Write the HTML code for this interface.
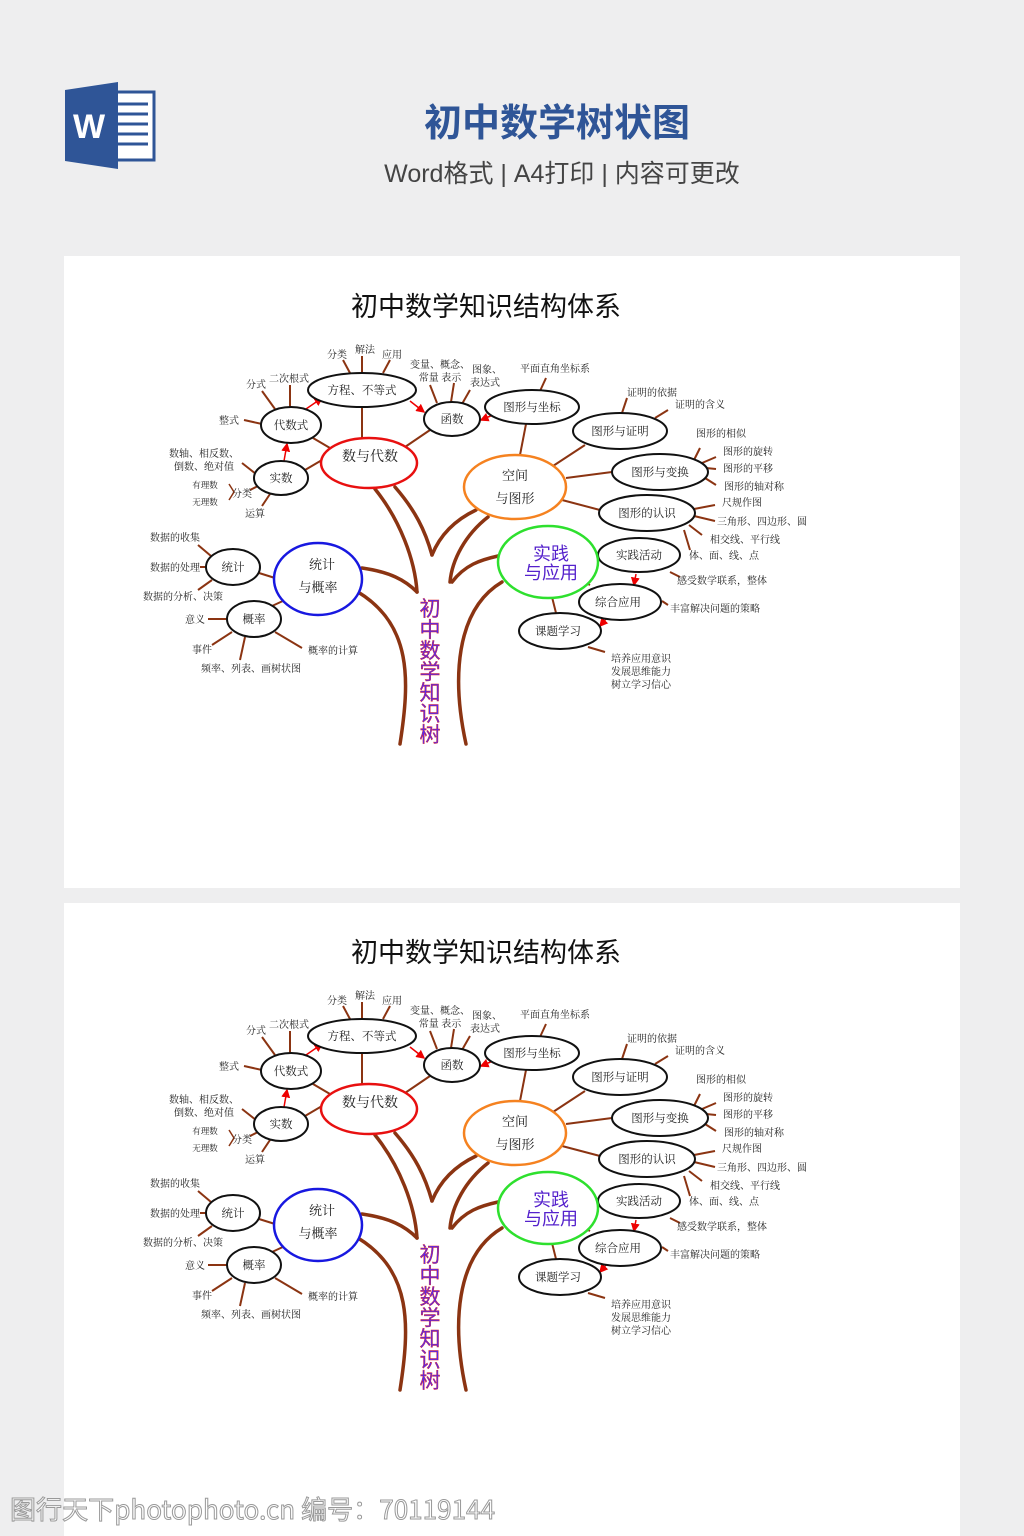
<!DOCTYPE html>
<html><head><meta charset="utf-8">
<style>
body{margin:0;width:1024px;height:1536px;background:#eeeeef;position:relative;overflow:hidden;font-family:"Liberation Sans","Noto Sans CJK SC",sans-serif}
.panel{position:absolute;left:64px;width:896px;background:#fff}
svg{position:absolute;left:0;top:0}
.t{font-family:"Liberation Serif","Noto Serif CJK SC",serif;fill:#222;text-anchor:middle}
.s{font-size:10px}.m{font-size:11.5px}
</style></head><body>
<div class="panel" style="top:256px;height:632px"></div>
<div class="panel" style="top:903px;height:633px"></div>
<div style="position:absolute;left:0;top:92px;width:1114px;text-align:center;font-size:38px;font-weight:bold;color:#2f5597;font-family:'Noto Sans CJK SC',sans-serif">初中数学树状图</div>
<div style="position:absolute;left:0;top:154px;width:1124px;text-align:center;font-size:25px;color:#444;font-family:'Liberation Sans','Noto Sans CJK SC',sans-serif">Word格式 | A4打印 | 内容可更改</div>
<svg width="1024" height="1536" viewBox="0 0 1024 1536">
<defs>
<marker id="ar" markerWidth="6" markerHeight="6" refX="5" refY="3" orient="auto"><path d="M0,0L6,3L0,6z" fill="#e00"/></marker>
</defs>
<rect x="112" y="92" width="42" height="68" fill="#fff" stroke="#2f5597" stroke-width="3"/>
<g stroke="#2f5597" stroke-width="3"><line x1="118" y1="104" x2="148" y2="104"/><line x1="118" y1="114" x2="148" y2="114"/><line x1="118" y1="124" x2="148" y2="124"/><line x1="118" y1="134" x2="148" y2="134"/><line x1="118" y1="144" x2="148" y2="144"/></g>
<polygon points="65,90 118,82 118,169 65,161" fill="#2f5597"/>
<text x="89" y="138" font-size="34" font-weight="bold" fill="#fff" text-anchor="middle" font-family="Liberation Sans,sans-serif">W</text>

<g id="d1">
<text x="486" y="316" font-size="27" text-anchor="middle" fill="#111" font-family="Noto Sans CJK SC,sans-serif">初中数学知识结构体系</text>
<g fill="none" stroke="#8b3412" stroke-width="3.5" stroke-linecap="round">
<path d="M400,744 C410,680 412,625 358,592"/>
<path d="M362,568 C390,572 405,580 417,592"/>
<path d="M375,489 C400,520 415,560 417,592"/>
<path d="M395,487 C415,510 425,530 432,555"/>
<path d="M476,510 C455,520 440,535 432,555"/>
<path d="M466,744 C452,680 455,610 502,582"/>
<path d="M452,582 C465,565 480,560 498,556"/>
<path d="M488,517 C465,535 452,560 450,582"/>
</g>
<g stroke="#8b3412" stroke-width="2">
<line x1="362" y1="407" x2="362" y2="438"/><line x1="313" y1="438" x2="330" y2="448"/><line x1="305" y1="470" x2="322" y2="460"/><line x1="430" y1="430" x2="405" y2="447"/>
<line x1="526" y1="424" x2="520" y2="455"/><line x1="585" y1="445" x2="553" y2="466"/><line x1="612" y1="472" x2="566" y2="478"/><line x1="600" y1="510" x2="562" y2="500"/>
<line x1="343" y1="360" x2="350" y2="373"/><line x1="362" y1="356" x2="362" y2="373"/><line x1="390" y1="360" x2="383" y2="373"/>
<line x1="262" y1="391" x2="275" y2="409"/><line x1="290" y1="385" x2="290" y2="407"/><line x1="244" y1="420" x2="262" y2="424"/>
<line x1="242" y1="463" x2="256" y2="474"/><line x1="250" y1="490" x2="258" y2="486"/><line x1="262" y1="506" x2="270" y2="494"/>
<line x1="430" y1="385" x2="437" y2="403"/><line x1="454" y1="383" x2="451" y2="402"/><line x1="470" y1="390" x2="462" y2="404"/>
<line x1="546" y1="378" x2="540" y2="391"/><line x1="627" y1="398" x2="622" y2="413"/><line x1="668" y1="410" x2="655" y2="418"/>
<line x1="700" y1="448" x2="694" y2="460"/><line x1="716" y1="457" x2="702" y2="463"/><line x1="716" y1="469" x2="706" y2="468"/><line x1="716" y1="485" x2="705" y2="478"/>
<line x1="715" y1="505" x2="694" y2="509"/><line x1="715" y1="521" x2="694" y2="516"/><line x1="702" y1="535" x2="689" y2="525"/><line x1="690" y1="550" x2="684" y2="530"/>
<line x1="590" y1="585" x2="580" y2="580"/><line x1="556" y1="613" x2="552" y2="597"/>
<line x1="670" y1="572" x2="680" y2="577"/><line x1="662" y1="601" x2="668" y2="605"/><line x1="588" y1="647" x2="605" y2="652"/>
<line x1="198" y1="545" x2="211" y2="556"/><line x1="200" y1="567" x2="206" y2="567"/><line x1="198" y1="590" x2="212" y2="580"/>
<line x1="259" y1="573" x2="275" y2="578"/><line x1="272" y1="606" x2="285" y2="600"/>
<line x1="208" y1="619" x2="227" y2="619"/><line x1="212" y1="645" x2="232" y2="632"/><line x1="240" y1="660" x2="245" y2="637"/><line x1="302" y1="648" x2="275" y2="632"/>
<polyline points="229,484 234,492 229,500" fill="none" stroke-width="1.5"/>
</g>
<g stroke="#e00" stroke-width="1.5" marker-end="url(#ar)">
<line x1="284" y1="461" x2="287" y2="444"/><line x1="306" y1="409" x2="322" y2="398"/><line x1="410" y1="401" x2="424" y2="412"/><line x1="500" y1="412" x2="481" y2="420"/>
<line x1="636" y1="574" x2="634" y2="585"/><line x1="606" y1="619" x2="600" y2="626"/>
</g>
<g fill="#fff" stroke="#111" stroke-width="2">
<ellipse cx="362" cy="390" rx="54" ry="17"/><ellipse cx="291" cy="425" rx="30" ry="18"/><ellipse cx="281" cy="478" rx="27" ry="17"/>
<ellipse cx="452" cy="419" rx="28" ry="17"/><ellipse cx="532" cy="407" rx="47" ry="17"/><ellipse cx="620" cy="431" rx="47" ry="18"/>
<ellipse cx="660" cy="472" rx="48" ry="18"/><ellipse cx="647" cy="513" rx="48" ry="18"/>
<ellipse cx="639" cy="555" rx="41" ry="17"/><ellipse cx="620" cy="602" rx="41" ry="18"/><ellipse cx="560" cy="631" rx="41" ry="18"/>
<ellipse cx="233" cy="567" rx="27" ry="18"/><ellipse cx="254" cy="619" rx="27" ry="18"/>
<ellipse cx="369" cy="463" rx="48" ry="25" stroke="#e81010" stroke-width="2.5"/>
<ellipse cx="515" cy="487" rx="51" ry="32" stroke="#f58220" stroke-width="2.5"/>
<ellipse cx="548" cy="562" rx="50" ry="36" stroke="#2ee02e" stroke-width="2.5"/>
<ellipse cx="318" cy="579" rx="44" ry="36" stroke="#1818e0" stroke-width="2.5"/>
</g>
<g class="t m">
<text x="362" y="394">方程、不等式</text><text x="291" y="429">代数式</text><text x="281" y="482">实数</text><text x="452" y="423">函数</text>
<text x="532" y="411">图形与坐标</text><text x="620" y="435">图形与证明</text><text x="660" y="476">图形与变换</text><text x="647" y="517">图形的认识</text>
<text x="639" y="559">实践活动</text><text x="618" y="606">综合应用</text><text x="558" y="635">课题学习</text>
<text x="233" y="571">统计</text><text x="254" y="623">概率</text>
<text x="370" y="461" font-size="14">数与代数</text>
<text x="515" y="480" font-size="13">空间</text><text x="515" y="503" font-size="13">与图形</text>
<text x="322" y="569" font-size="13">统计</text><text x="318" y="592" font-size="13">与概率</text>
</g>
<g font-family="Noto Sans CJK SC,sans-serif" font-size="18" fill="#5522cc" text-anchor="middle">
<text x="551" y="560">实践</text><text x="551" y="579">与应用</text>
</g>
<g font-family="Noto Sans CJK SC,sans-serif" font-size="21" fill="#5a2ae8" stroke="#e02020" stroke-width="0.4" text-anchor="middle">
<text x="430" y="616">初</text><text x="430" y="637">中</text><text x="430" y="658">数</text><text x="430" y="679">学</text><text x="430" y="700">知</text><text x="430" y="721">识</text><text x="430" y="742">树</text>
</g>
<g class="t s">
<text x="337" y="358">分类</text><text x="365" y="353">解法</text><text x="392" y="358">应用</text>
<text x="256" y="388">分式</text><text x="289" y="382">二次根式</text><text x="229" y="424">整式</text>
<text x="204" y="457">数轴、相反数、</text><text x="204" y="470">倒数、绝对值</text>
<text x="205" y="488" font-size="8.5">有理数</text><text x="205" y="505" font-size="8.5">无理数</text><text x="242" y="497">分类</text><text x="255" y="517">运算</text>
<text x="440" y="368">变量、概念、</text><text x="440" y="381">常量  表示</text><text x="487" y="373">图象、</text><text x="485" y="386">表达式</text>
<text x="555" y="372">平面直角坐标系</text><text x="652" y="396">证明的依据</text><text x="700" y="408">证明的含义</text>
<text x="721" y="437">图形的相似</text><text x="748" y="455">图形的旋转</text><text x="748" y="472">图形的平移</text><text x="754" y="490">图形的轴对称</text>
<text x="742" y="506">尺规作图</text><text x="762" y="525">三角形、四边形、圆</text><text x="745" y="543">相交线、平行线</text><text x="724" y="559">体、面、线、点</text>
<text x="722" y="584">感受数学联系，整体</text><text x="715" y="612">丰富解决问题的策略</text>
<text x="641" y="662">培养应用意识</text><text x="641" y="675">发展思维能力</text><text x="641" y="688">树立学习信心</text>
<text x="175" y="541">数据的收集</text><text x="175" y="571">数据的处理</text><text x="183" y="600">数据的分析、决策</text>
<text x="195" y="623">意义</text><text x="202" y="653">事件</text><text x="251" y="672">频率、列表、画树状图</text><text x="333" y="654">概率的计算</text>
</g>
</g>
<use href="#d1" transform="translate(0,646)"/>
<text x="10" y="1519" font-size="26" textLength="485" fill="#fff" stroke="#999" stroke-width="1" font-family="Noto Sans CJK SC,sans-serif">图行天下photophoto.cn 编号：70119144</text>
</svg>
</body></html>
